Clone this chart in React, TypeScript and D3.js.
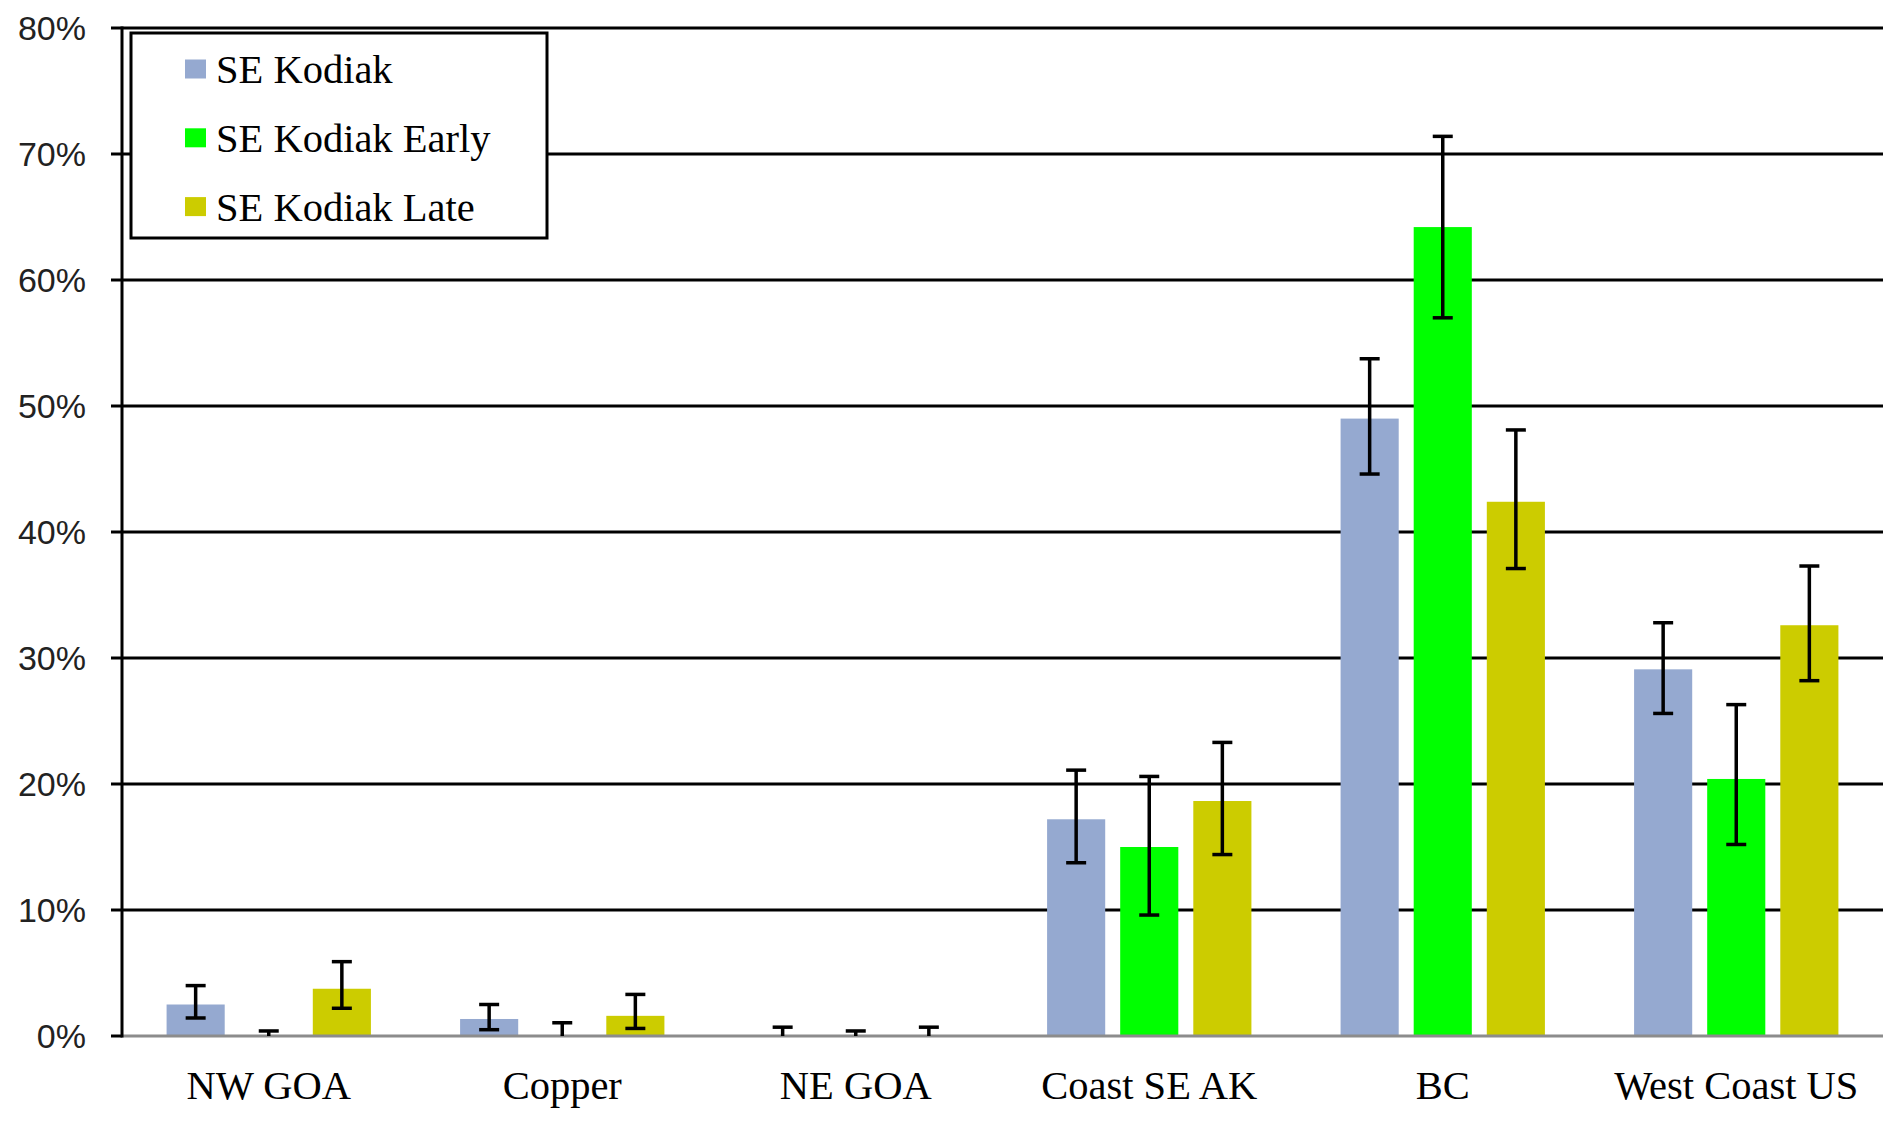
import React from "react";
import * as d3 from "d3";

const categories = ["NW GOA", "Copper", "NE GOA", "Coast SE AK", "BC", "West Coast US"];
const seriesNames = ["SE Kodiak", "SE Kodiak Early", "SE Kodiak Late"];
const seriesColors = ["#95A9D0", "#00FF00", "#CCCC00"];

const seKodiak = [0.025, 0.0135, 0.0, 0.172, 0.49, 0.291];
const seKodiakLo = [0.0143, 0.005, 0.0, 0.1375, 0.446, 0.256];
const seKodiakHi = [0.04, 0.025, 0.007, 0.211, 0.5375, 0.328];

const seKodiakEarly = [0.0, 0.0, 0.0, 0.15, 0.642, 0.204];
const seKodiakEarlyLo = [0.0, 0.0, 0.0, 0.096, 0.57, 0.152];
const seKodiakEarlyHi = [0.004, 0.0105, 0.004, 0.206, 0.714, 0.263];

const seKodiakLate = [0.0375, 0.016, 0.0, 0.1865, 0.424, 0.326];
const seKodiakLateLo = [0.022, 0.006, 0.0, 0.144, 0.371, 0.282];
const seKodiakLateHi = [0.059, 0.033, 0.007, 0.233, 0.481, 0.373];

const yTicks = [0, 0.1, 0.2, 0.3, 0.4, 0.5, 0.6, 0.7, 0.8];

const values = [seKodiak, seKodiakEarly, seKodiakLate];
const lows = [seKodiakLo, seKodiakEarlyLo, seKodiakLateLo];
const highs = [seKodiakHi, seKodiakEarlyHi, seKodiakLateHi];

export default function App() {
  const W = 1895;
  const H = 1124;
  const left = 122;
  const right = 1883;
  const top = 28;
  const bottom = 1036;

  const x0 = d3.scaleBand<string>().domain(categories).range([left, right]).paddingInner(0).paddingOuter(0);
  const x1 = d3
    .scaleBand<string>()
    .domain(seriesNames)
    .range([0, x0.bandwidth()])
    .paddingInner(0.205)
    .paddingOuter(0.61);
  const y = d3.scaleLinear().domain([0, 0.8]).range([bottom, top]);
  const fmt = d3.format(".0%");
  const capW = 20;
  const serif = "Liberation Serif, Times New Roman, serif";

  return (
    <svg
      width={W}
      height={H}
      style={{ position: "absolute", left: 0, top: 0, background: "#fff" }}
    >
      {/* gridlines */}
      {yTicks.filter((t) => t > 0).map((t) => (
        <line key={"g" + t} x1={left} x2={right} y1={y(t)} y2={y(t)} stroke="#000" strokeWidth={3} />
      ))}
      {/* y tick marks and labels */}
      {yTicks.map((t) => (
        <g key={"t" + t}>
          <line x1={left - 11} x2={left} y1={y(t)} y2={y(t)} stroke="#000" strokeWidth={3} />
          <text
            x={86}
            y={y(t)}
            dy="0.36em"
            textAnchor="end"
            fontFamily="Liberation Sans, Arial, sans-serif"
            fontSize={34}
            fill="#222"
          >
            {fmt(t)}
          </text>
        </g>
      ))}
      {/* bars */}
      {seriesNames.map((s, si) =>
        categories.map((c, ci) => {
          const v = values[si][ci];
          const bx = (x0(c) as number) + (x1(s) as number);
          return (
            <rect
              key={s + c}
              x={bx}
              y={y(v)}
              width={x1.bandwidth()}
              height={y(0) - y(v)}
              fill={seriesColors[si]}
            />
          );
        })
      )}
      {/* baseline */}
      <line x1={left} x2={right} y1={y(0)} y2={y(0)} stroke="#8c8c8c" strokeWidth={3} />
      {/* y axis */}
      <line x1={left} x2={left} y1={top - 1.5} y2={bottom + 1.5} stroke="#000" strokeWidth={3} />
      {/* error bars */}
      {seriesNames.map((s, si) =>
        categories.map((c, ci) => {
          const cx = (x0(c) as number) + (x1(s) as number) + x1.bandwidth() / 2;
          const lo = lows[si][ci];
          const hi = highs[si][ci];
          return (
            <g key={"e" + s + c} stroke="#000" strokeWidth={3.5}>
              <line x1={cx} x2={cx} y1={y(lo)} y2={y(hi)} />
              <line x1={cx - capW / 2} x2={cx + capW / 2} y1={y(hi)} y2={y(hi)} />
              {lo > 0 && <line x1={cx - capW / 2} x2={cx + capW / 2} y1={y(lo)} y2={y(lo)} />}
            </g>
          );
        })
      )}
      {/* x labels */}
      {categories.map((c) => (
        <text
          key={"x" + c}
          x={(x0(c) as number) + x0.bandwidth() / 2}
          y={1099}
          textAnchor="middle"
          fontFamily={serif}
          fontSize={40.5}
          fill="#000"
        >
          {c}
        </text>
      ))}
      {/* legend */}
      <rect x={131} y={33} width={416} height={205} fill="#fff" stroke="#000" strokeWidth={3} />
      {seriesNames.map((s, si) => (
        <g key={"l" + s}>
          <rect x={185} y={59.5 + si * 68.8} width={21} height={19} fill={seriesColors[si]} />
          <text x={216} y={83 + si * 68.8} fontFamily={serif} fontSize={40.5} fill="#000">
            {s}
          </text>
        </g>
      ))}
    </svg>
  );
}
